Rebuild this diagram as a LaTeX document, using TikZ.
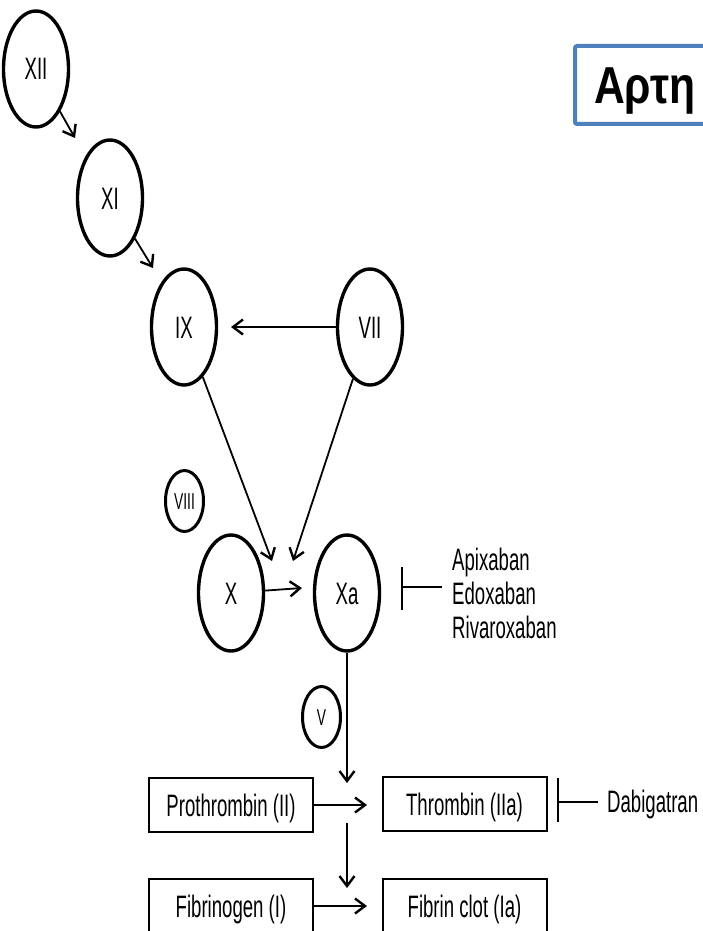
\documentclass[tikz,border=0pt]{standalone}
\usepackage{fontspec}
\setmainfont{Liberation Sans}
\newfontfamily\nar[FakeStretch=0.6]{Liberation Sans}
\newfontfamily\ttl[FakeStretch=0.82]{Liberation Sans}
\usetikzlibrary{shapes.geometric,arrows.meta}
\definecolor{tblue}{RGB}{79,129,189}
\begin{document}
\begin{tikzpicture}[x=1pt,y=-1pt,
  fac/.style={ellipse,draw,line width=3.4pt,minimum width=65pt,minimum height=116pt,inner sep=0pt,
    text height=22pt,text depth=0pt,font=\nar\fontsize{31}{31}\selectfont},
  cof/.style={ellipse,draw,line width=3pt,minimum width=38pt,minimum height=61pt,inner sep=0pt,
    text height=16pt,text depth=0pt,font=\nar\fontsize{23}{23}\selectfont},
  pbox/.style={draw,line width=2pt,minimum width=164pt,minimum height=54pt,inner sep=0pt,
    text height=22pt,text depth=0pt,font=\nar\fontsize{31}{31}\selectfont},
  lab/.style={anchor=west,inner sep=0pt,text height=22pt,text depth=0pt,font=\nar\fontsize{31}{31}\selectfont},
  arr/.style={line width=1.8pt,-{Straight Barb[length=10pt,width=15pt,line width=2.4pt]}},
  ln/.style={line width=1.8pt}]
\useasboundingbox (0,0) rectangle (703,931);
\fill[white] (0,0) rectangle (703,931);
% title box (cut by the right edge)
\draw[tblue,line width=4pt,rounded corners=2pt,fill=white] (575,46) rectangle (780,124);
\node[anchor=base west,inner sep=0pt,font=\ttl\bfseries\fontsize{52}{52}\selectfont] (title) at (594,104) {Αρτη};
% factors
\node[fac] (XII) at (36,69) {XII};
\node[fac] (XI) at (110,198) {XI};
\node[fac] (IX) at (184,327) {IX};
\node[fac] (VII) at (370,327) {VII};
\node[cof] (VIII) at (184.5,501) {VIII};
\node[fac] (X) at (231,593) {X};
\node[fac] (Xa) at (347,593) {Xa};
\node[cof] (V) at (321.5,717) {V};
\node[pbox] (PT) at (231,805) {Prothrombin (II)};
\node[pbox] (TH) at (464.5,804) {Thrombin (IIa)};
\node[pbox] (FG) at (231,906) {Fibrinogen (I)};
\node[pbox] (FC) at (464.5,906) {Fibrin clot (Ia)};
\node[lab] (api) at (452,559) {Apixaban};
\node[lab] (edo) at (452,593) {Edoxaban};
\node[lab] (riv) at (452,627) {Rivaroxaban};
\node[lab] (dab) at (607,801) {Dabigatran};
% coordinates
\coordinate (t1) at (75,138);
\coordinate (t2) at (153,268);
\coordinate (t3) at (231,327);
\coordinate (t4) at (272,561);
\coordinate (t5) at (293,561);
\coordinate (t6) at (302,588);
\coordinate (t7) at (347,783);
\coordinate (t8) at (367,805);
\coordinate (s9) at (347,823);
\coordinate (t9) at (347,888);
\coordinate (t10) at (367,906);
\coordinate (b1a) at (402,567);
\coordinate (b1b) at (402,610);
\coordinate (b1m) at (402,587);
\coordinate (b2a) at (558,778);
\coordinate (b2b) at (558,822);
\coordinate (b2m) at (558,802);
% connectors
\draw[arr] (XII) -- (t1);
\draw[arr] (XI) -- (t2);
\draw[arr] (VII) -- (t3);
\draw[arr] (IX) -- (t4);
\draw[arr] (VII) -- (t5);
\draw[arr] (X) -- (t6);
\draw[arr] (Xa) -- (t7);
\draw[arr] (PT) -- (t8);
\draw[arr] (s9) -- (t9);
\draw[arr] (FG) -- (t10);
% inhibitor bars
\draw[ln] (b1a) -- (b1b);
\draw[ln] (b1m) -- ([xshift=-10pt]edo.west |- b1m);
\draw[ln] (b2a) -- (b2b);
\draw[ln] (b2m) -- ([xshift=-9pt]dab.west |- b2m);
\end{tikzpicture}
\end{document}
